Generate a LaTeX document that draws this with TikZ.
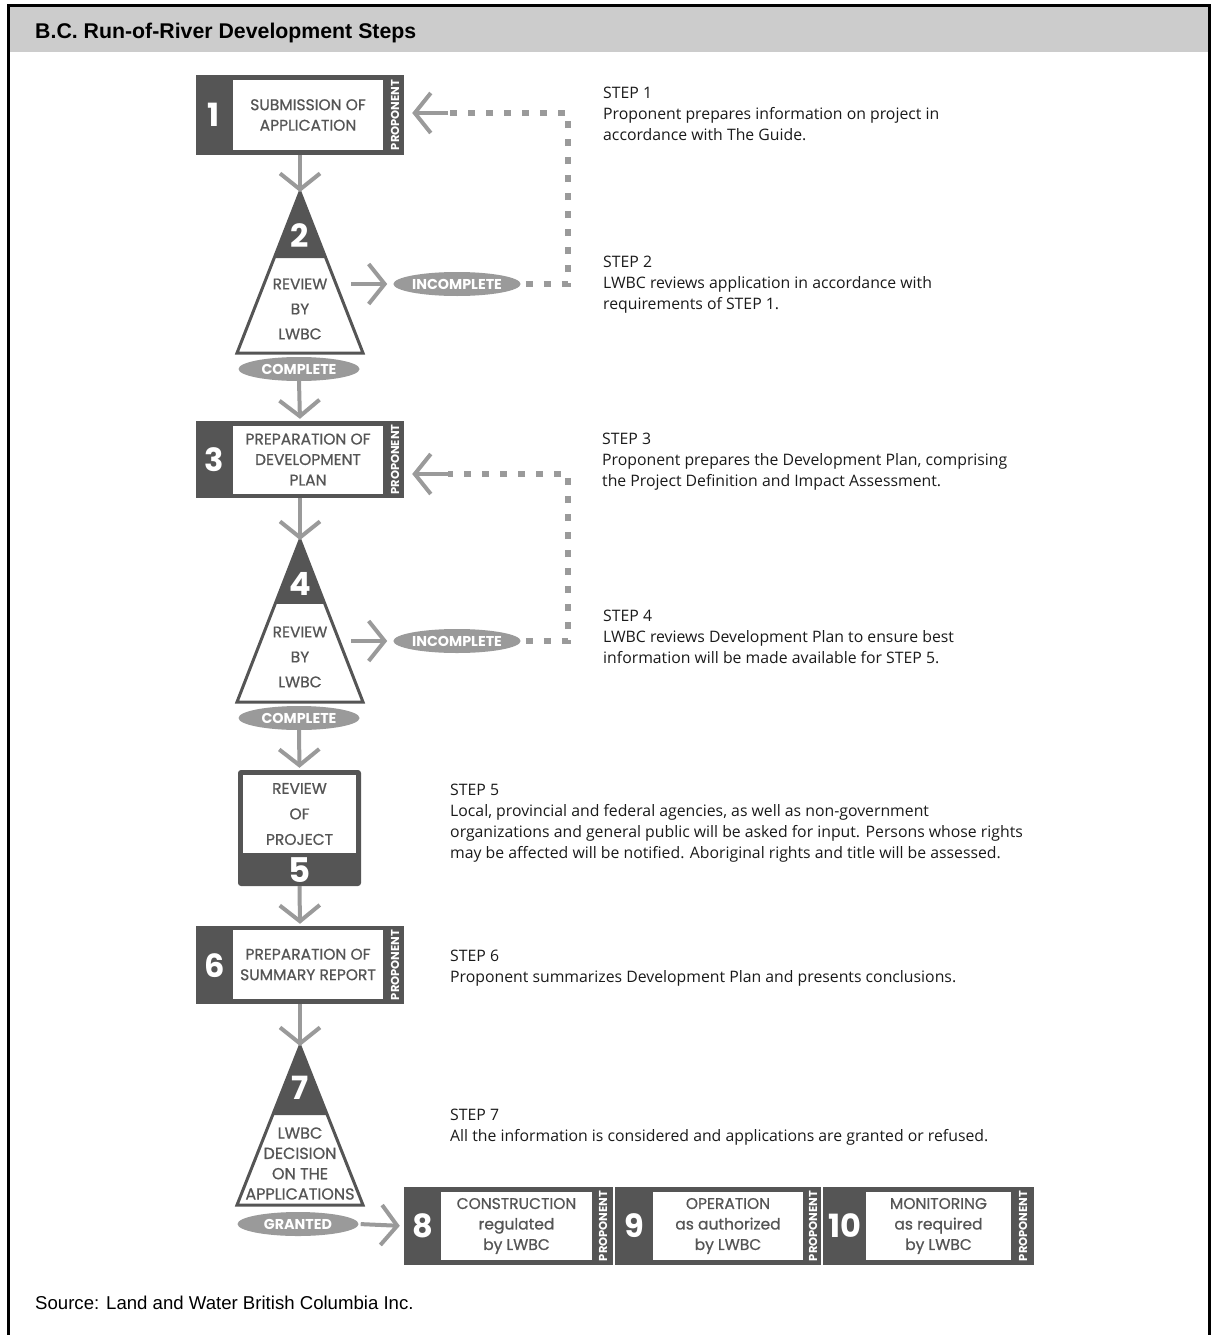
\documentclass[tikz,border=0pt]{standalone}
\usepackage{fontspec}
\setmainfont{Open Sans}
\newfontfamily\geo{Poppins}
\newfontfamily\geom[FakeBold=0.7]{Poppins}
\newfontfamily\arial{Liberation Sans}
\usetikzlibrary{arrows.meta,shapes.geometric,calc}
\definecolor{dk}{HTML}{555555}
\definecolor{ar}{HTML}{9A9A9A}
\definecolor{hd}{HTML}{CCCCCC}
\definecolor{tx}{HTML}{1A1A1A}
\tikzset{
 outer/.style={fill=dk, inner sep=0, minimum width=208, minimum height=78},
 inner/.style={fill=white, inner sep=0, align=center, text=dk, font=\geom\fontsize{15.5}{20.5}\selectfont},
 num/.style={text=white, font=\geo\bfseries\fontsize{32}{32}\selectfont, inner sep=0},
 prop/.style={text=white, font=\geo\bfseries\fontsize{11.5}{11.5}\selectfont, rotate=90, inner sep=0},
 lbl/.style={text=dk, align=center, inner sep=0, font=\geom\fontsize{15.5}{25}\selectfont},
 ell/.style={ellipse, fill=ar, text=white, font=\geo\bfseries\fontsize{14.3}{14.3}\selectfont, inner sep=0, minimum width=121, minimum height=24},
 garrow/.style={draw=ar, line width=4, -{Straight Barb[length=16pt, width=40pt]}},
 dots/.style={draw=ar, line width=6, dash pattern=on 7pt off 11pt},
 steptxt/.style={anchor=base west, align=left, inner sep=0, text=tx, font=\fontsize{15.8}{20.8}\selectfont},
 tri/.style={draw=dk, line width=3, line join=miter}
}
\begin{document}
\begin{tikzpicture}[x=1pt,y=-1pt]
\useasboundingbox (0,0) rectangle (1215,1335);
% frame and header
\fill[hd] (9,7) rectangle (1208,52);
\draw[line width=3] (8.5,1336) -- (8.5,5.5) -- (1209.5,5.5) -- (1209.5,1336);
\node[anchor=base west, inner sep=0, font=\arial\bfseries\fontsize{21.3}{24}\selectfont] (title) at (35,38.5) {B.C. Run-of-River Development Steps};

% Box 1
\node[outer, minimum height=80] (b1) at (300,115) {};
\node[inner, minimum width=150, minimum height=70] (b1i) at (308,115) {SUBMISSION OF\\APPLICATION};
\node[num] (b1n) at (214,115) {1};
\node[prop] (b1p) at (395,115) {PROPONENT};

% Triangle 2
\coordinate (t2a) at (300,192); \coordinate (t2l) at (237,353); \coordinate (t2r) at (363,353);
\fill[white] (t2a) -- (t2l) -- (t2r) -- cycle;
\fill[dk] (t2a) -- ($(t2a)!0.41!(t2l)$) -- ($(t2a)!0.41!(t2r)$) -- cycle;
\draw[tri] (t2a) -- (t2l) -- (t2r) -- cycle;
\node[num] (t2n) at (300,236) {2};
\node[lbl] (t2t) at (300,309) {REVIEW\\BY\\LWBC};
\node[ell] (c2) at (299,369) {COMPLETE};
\node[ell] (i2) at (457,284) {INCOMPLETE};

% Box 3
\node[outer, minimum height=77] (b3) at (300,459.5) {};
\node[inner, minimum width=150, minimum height=68] (b3i) at (308,459.5) {PREPARATION OF\\DEVELOPMENT\\PLAN};
\node[num] (b3n) at (214,460) {3};
\node[prop] (b3p) at (395,459.5) {PROPONENT};

% Triangle 4
\coordinate (t4a) at (300,540); \coordinate (t4l) at (237,702); \coordinate (t4r) at (363,702);
\fill[white] (t4a) -- (t4l) -- (t4r) -- cycle;
\fill[dk] (t4a) -- ($(t4a)!0.395!(t4l)$) -- ($(t4a)!0.395!(t4r)$) -- cycle;
\draw[tri] (t4a) -- (t4l) -- (t4r) -- cycle;
\node[num] (t4n) at (300,584) {4};
\node[lbl] (t4t) at (300,657) {REVIEW\\BY\\LWBC};
\node[ell] (c4) at (299,718) {COMPLETE};
\node[ell] (i4) at (457,641) {INCOMPLETE};

% Box 5
\node[fill=dk, rounded corners=3, inner sep=0, minimum width=123, minimum height=116] (b5) at (299.5,828) {};
\node[inner, font=\geom\fontsize{15.5}{25.5}\selectfont, minimum width=113, minimum height=78] (b5i) at (299.5,814) {REVIEW\\OF\\PROJECT};
\node[num, font=\geo\bfseries\fontsize{34}{34}\selectfont] (b5n) at (300,870) {5};

% Box 6
\node[outer, minimum height=78] (b6) at (300,965) {};
\node[inner, minimum width=150, minimum height=69] (b6i) at (308,964.5) {PREPARATION OF\\SUMMARY REPORT};
\node[num] (b6n) at (215,966) {6};
\node[prop] (b6p) at (395,965) {PROPONENT};

% Triangle 7
\coordinate (t7a) at (300,1046); \coordinate (t7l) at (237,1205); \coordinate (t7r) at (363,1205);
\fill[white] (t7a) -- (t7l) -- (t7r) -- cycle;
\fill[dk] (t7a) -- ($(t7a)!0.434!(t7l)$) -- ($(t7a)!0.434!(t7r)$) -- cycle;
\draw[tri] (t7a) -- (t7l) -- (t7r) -- cycle;
\node[num] (t7n) at (300,1088) {7};
\node[lbl, font=\geom\fontsize{16}{20.3}\selectfont] (t7t) at (300,1163.5) {LWBC\\DECISION\\ON THE\\APPLICATIONS};
\node[ell] (g7) at (298,1224) {GRANTED};

% Boxes 8, 9, 10
\node[outer, minimum width=209, minimum height=78] (b8) at (508.5,1226) {};
\node[inner, minimum width=151, minimum height=68] (b8i) at (516.5,1226) {CONSTRUCTION\\regulated\\by LWBC};
\node[num] (b8n) at (423,1226) {8};
\node[prop] (b8p) at (603,1226) {PROPONENT};

\node[outer, minimum width=206, minimum height=78] (b9) at (718,1226) {};
\node[inner, minimum width=150, minimum height=68] (b9i) at (728,1226) {OPERATION\\as authorized\\by LWBC};
\node[num] (b9n) at (634,1226) {9};
\node[prop] (b9p) at (813,1226) {PROPONENT};

\node[outer, minimum width=211, minimum height=78] (b10) at (928.5,1226) {};
\node[inner, minimum width=145, minimum height=68] (b10i) at (938.5,1226) {MONITORING\\as required\\by LWBC};
\node[num] (b10n) at (845,1226) {10};
\node[prop] (b10p) at (1023,1226) {PROPONENT};

% vertical arrows
\draw[garrow] (b1.south) -- (t2a);
\draw[garrow, shorten >=2] (c2.south) -- (b3.north);
\draw[garrow] (b3.south) -- (t4a);
\draw[garrow, shorten >=2] (c4.south) -- (b5.north);
\draw[garrow, shorten >=2] (b5.south) -- (b6.north);
\draw[garrow] (b6.south) -- (t7a);

% side arrows
\coordinate (t2s) at (351,284);
\coordinate (t4s) at (351,641);
\draw[garrow, shorten >=6] (t2s) -- (i2.west);
\draw[garrow, shorten >=6] (t4s) -- (i4.west);
\draw[garrow, shorten <=2, shorten >=4] (g7.east) -- (b8.west);

% return loops
\coordinate (d2c) at (568,284); \coordinate (d1c) at (568,113); \coordinate (d1e) at (448,113);
\draw[dots, shorten <=5] (i2.east) -- (d2c) -- (d1c) -- (d1e);
\draw[garrow, shorten >=8] (d1e) -- (d1e -| b1.east);
\coordinate (d4c) at (568,641); \coordinate (d3c) at (568,474); \coordinate (d3e) at (448,474);
\draw[dots, shorten <=5] (i4.east) -- (d4c) -- (d3c) -- (d3e);
\draw[garrow, shorten >=8] (d3e) -- (d3e -| b3.east);

% step texts (anchored at the baseline of the last line)
\node[steptxt] (s1) at (603,140) {STEP 1\\Proponent prepares information on project in\\accordance with The Guide.};
\node[steptxt] (s2) at (603,309) {STEP 2\\LWBC reviews application in accordance with\\requirements of STEP 1.};
\node[steptxt] (s3) at (602,486) {STEP 3\\Proponent prepares the Development Plan, comprising\\the Project Definition and Impact Assessment.};
\node[steptxt] (s4) at (603,663) {STEP 4\\LWBC reviews Development Plan to ensure best\\information will be made available for STEP 5.};
\node[steptxt] (s5) at (450,858) {STEP 5\\Local, provincial and federal agencies, as well as non-government\\organizations and general public will be asked for input. Persons whose rights\\may be affected will be notified. Aboriginal rights and title will be assessed.};
\node[steptxt] (s6) at (450,982) {STEP 6\\Proponent summarizes Development Plan and presents conclusions.};
\node[steptxt] (s7) at (450,1141) {STEP 7\\All the information is considered and applications are granted or refused.};

\node[anchor=base west, inner sep=0, font=\arial\fontsize{18.6}{21}\selectfont] (src) at (35,1309) {Source: Land and Water British Columbia Inc.};
\end{tikzpicture}
\end{document}
